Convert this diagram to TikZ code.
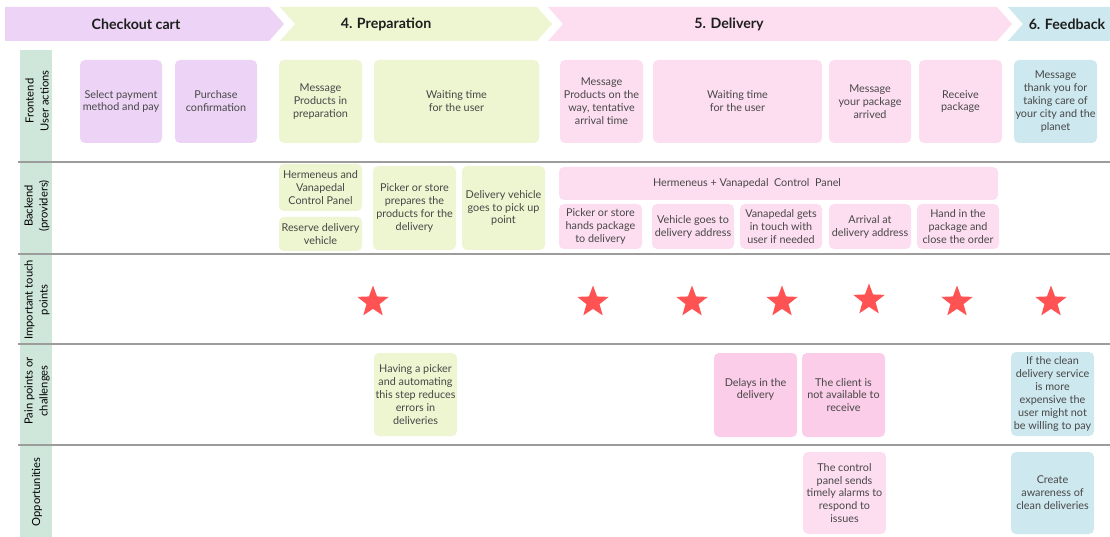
\documentclass[tikz,border=0pt]{standalone}
\usepackage{fontspec}
\setmainfont{Lato}
\usetikzlibrary{shapes.geometric}

\definecolor{purp}{HTML}{EDD4F6}
\definecolor{lime}{HTML}{EEF5D1}
\definecolor{pinkl}{HTML}{FDDEF1}
\definecolor{pinkd}{HTML}{FBCDE8}
\definecolor{bluel}{HTML}{CDE8EE}
\definecolor{strip}{HTML}{CFE7DA}
\definecolor{rule}{HTML}{9C9C9C}
\definecolor{txt}{HTML}{474747}
\definecolor{head}{HTML}{1E1E1E}
\definecolor{starred}{HTML}{FF5252}

\tikzset{
  card/.style={rounded corners=5pt, inner sep=0pt, align=center, text=txt,
    font=\fontsize{10.8}{12.9}\selectfont},
  cardtext/.style={inner sep=0pt, align=center, text=txt,
    font=\fontsize{10.8}{12.9}\selectfont},
  phasetext/.style={inner sep=0pt, text=head, font=\fontsize{14.2}{16}\selectfont\bfseries},
  rowlab/.style={rotate=90, inner sep=0pt, align=center, text=black,
    font=\fontsize{11.2}{15}\selectfont},
  lane/.style={draw=rule, line width=1.3pt},
  touch/.style={star, star points=5, star point ratio=2.4, minimum size=33pt,
    inner sep=0pt, fill=starred, draw=none},
}

% \cardbox{name}{x1}{y1}{x2}{y2}{fill}{text}
\newcommand\cardbox[7]{%
  \node[card, fill=#6, minimum width={(#4-#2)*1pt}, minimum height={(#5-#3)*1pt}]
    (#1) at ({(#2+#4)/2},{(#3+#5)/2}) {#7};}

\begin{document}
\begin{tikzpicture}[x=1pt, y=-1pt]
\useasboundingbox[fill=white] (0,0) rectangle (1110,537);

% phase chevrons
\fill[purp]  (5,7) -- (269,7) -- (284,24) -- (269,41) -- (5,41) -- cycle;
\fill[lime]  (280,7) -- (537,7) -- (552,24) -- (537,41) -- (280,41) -- (295,24) -- cycle;
\fill[pinkl] (548,7) -- (997,7) -- (1012,24) -- (997,41) -- (548,41) -- (563,24) -- cycle;
\fill[bluel] (1008,7) -- (1110,7) -- (1110,41) -- (1008,41) -- (1023,24) -- cycle;
\node[phasetext] (ph1) at (136,24) {Checkout cart};
\node[phasetext] (ph2) at (386,24) {4. Preparation};
\node[phasetext] (ph3) at (729,24) {5. Delivery};
\node[phasetext] (ph4) at (1067,24) {6. Feedback};

% lane label strip and separators
\fill[strip] (20,50) rectangle (52,537);
\draw[lane] (18,162) -- (1110,162);
\draw[lane] (18,254) -- (1110,254);
\draw[lane] (18,344) -- (1110,344);
\draw[lane] (18,445) -- (1110,445);

\node[rowlab] (lab1) at (37,101) {Frontend\\User actions};
\node[rowlab] (lab2) at (37,206) {Backend\\(providers)};
\node[rowlab] (lab3) at (37,300) {Important touch\\points};
\node[rowlab] (lab4) at (37,391) {Pain points or\\challenges};
\node[rowlab] (lab5) at (37,492) {Opportunities};

% frontend / user actions
\cardbox{pay}{80}{60}{162}{143}{purp}{Select payment\\method and pay}
\cardbox{confirm}{175}{60}{257}{143}{purp}{Purchase\\confirmation}
\cardbox{msgprep}{279}{60}{362}{143}{lime}{Message\\Products in\\preparation}
\cardbox{waitprep}{374}{60}{539}{143}{lime}{Waiting time\\for the user}
\cardbox{msgway}{560}{60}{643}{143}{pinkl}{Message\\Products on the\\way, tentative\\arrival time}
\cardbox{waitdel}{653}{60}{822}{143}{pinkl}{Waiting time\\for the user}
\cardbox{msgarr}{829}{60}{911}{143}{pinkl}{Message\\your package\\arrived}
\cardbox{receive}{919}{60}{1002}{143}{pinkl}{Receive\\package}
\cardbox{thanks}{1014}{60}{1097}{143}{bluel}{Message\\thank you for\\taking care of\\your city and the\\planet}

% backend / providers
\cardbox{herm1}{279}{164}{362}{211}{lime}{Hermeneus and\\Vanapedal\\Control Panel}
\cardbox{reserve}{279}{217}{362}{251}{lime}{Reserve delivery\\vehicle}
\cardbox{pickprep}{373}{166}{456}{250}{lime}{Picker or store\\prepares the\\products for the\\delivery}
\cardbox{vehpick}{462}{166}{545}{250}{lime}{Delivery vehicle\\goes to pick up\\point}
\cardbox{herm2}{559}{167}{998}{200}{pinkl}{}
\node[cardtext] (herm2t) at (747,183.5) {Hermeneus + Vanapedal\ \ Control\ \ Panel};
\cardbox{pickhand}{559}{204}{642}{249}{pinkl}{Picker or store\\hands package\\to delivery}
\cardbox{vehaddr}{652}{204}{734}{249}{pinkl}{Vehicle goes to\\delivery address}
\cardbox{vanagets}{740}{204}{822}{249}{pinkl}{Vanapedal gets\\in touch with\\user if needed}
\cardbox{arrival}{829}{204}{911}{249}{pinkl}{Arrival at\\delivery address}
\cardbox{handin}{917}{204}{999}{249}{pinkl}{Hand in the\\package and\\close the order}

% important touch points
\node[touch] (tp1) at (373,302) {};
\node[touch] (tp2) at (593,302) {};
\node[touch] (tp3) at (692,302) {};
\node[touch] (tp4) at (782,302) {};
\node[touch] (tp5) at (869,300) {};
\node[touch] (tp6) at (957,302) {};
\node[touch] (tp7) at (1051,302) {};

% pain points or challenges
\cardbox{having}{374}{353}{457}{436}{lime}{Having a picker\\and automating\\this step reduces\\errors in\\deliveries}
\cardbox{delays}{714}{353}{797}{437}{pinkd}{Delays in the\\delivery\\\mbox{}}
\cardbox{client}{802}{353}{885}{437}{pinkd}{The client is\\not available to\\receive}
\cardbox{ifclean}{1011}{352}{1094}{436}{bluel}{If the clean\\delivery service\\is more\\expensive the\\user might not\\be willing to pay}

% opportunities
\cardbox{control}{803}{452}{886}{534}{pinkl}{The control\\panel sends\\timely alarms to\\respond to\\issues}
\cardbox{create}{1011}{452}{1094}{534}{bluel}{Create\\awareness of\\clean deliveries}
\end{tikzpicture}
\end{document}
